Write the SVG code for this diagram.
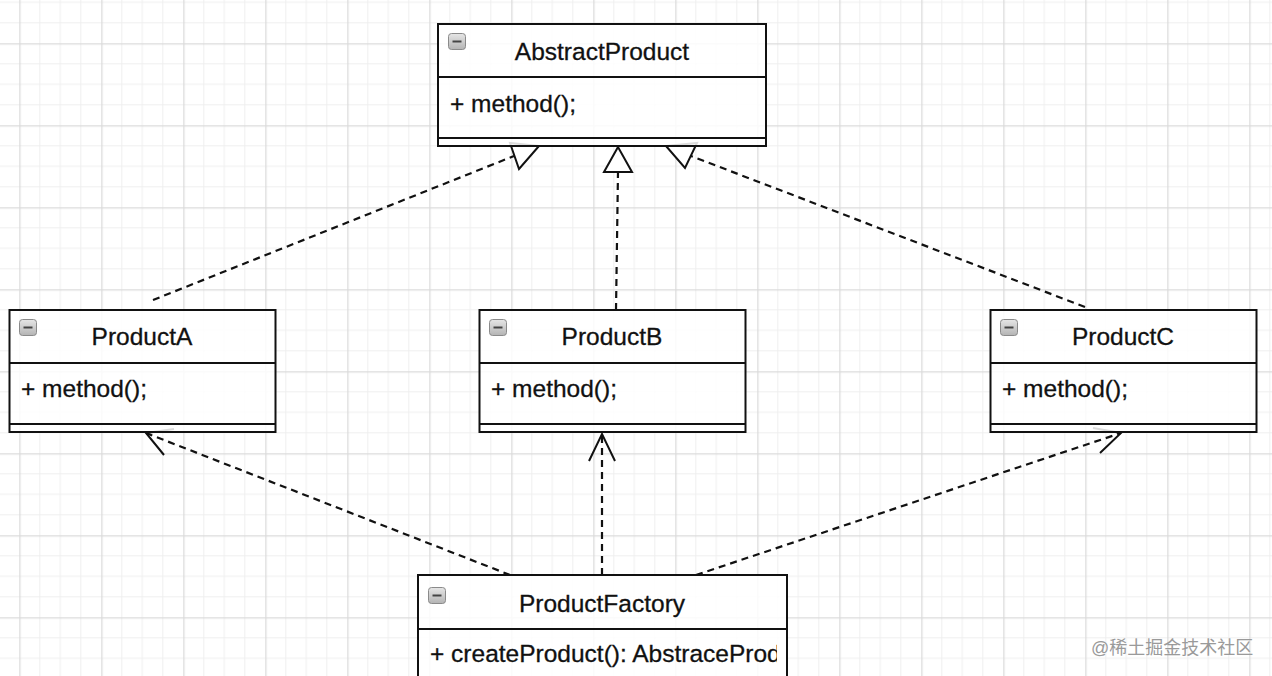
<svg xmlns="http://www.w3.org/2000/svg" width="1272" height="676" viewBox="0 0 1272 676">
<defs>
<pattern id="grid" patternUnits="userSpaceOnUse" x="19.3" y="43.3" width="82" height="82">
<path d="M20.5 0V82M41 0V82M61.5 0V82M0 20.5H82M0 41H82M0 61.5H82" stroke="#efefef" stroke-width="1" fill="none"/>
<path d="M0.5 0V82M0 0.5H82" stroke="#dadada" stroke-width="1.5" fill="none"/>
</pattern>
<linearGradient id="ig" x1="0" y1="0" x2="0" y2="1">
<stop offset="0" stop-color="#e6e6e6"/>
<stop offset="1" stop-color="#b4b4b4"/>
</linearGradient>
<g id="icon">
<rect x="0.5" y="0.5" width="17" height="16" rx="3" fill="url(#ig)" stroke="#8a8a8a" stroke-width="1"/>
<line x1="4.5" y1="8.5" x2="13.5" y2="8.5" stroke="#444" stroke-width="2"/>
</g>
<clipPath id="fclip"><rect x="418" y="575" width="359" height="101"/></clipPath>
</defs>
<style>
.box{fill:#fff;fill-opacity:0.85;stroke:#111;stroke-width:2}
.ln{stroke:#111;stroke-width:2;fill:none}
.title{font-family:"Liberation Sans",Arial,sans-serif;font-size:24.5px;fill:#111;stroke:#111;stroke-width:0.3;text-anchor:middle}
.meth{font-family:"Liberation Sans",Arial,sans-serif;font-size:24.5px;fill:#111;stroke:#111;stroke-width:0.3}
.dash{stroke:#111;stroke-width:2.2;fill:none;stroke-dasharray:7 5}
.head{stroke:#111;stroke-width:2;fill:#fff;stroke-linejoin:miter}
.open{stroke:#111;stroke-width:2;fill:none}
.wm{font-family:"Liberation Sans","Noto Sans CJK SC",sans-serif;font-size:18px;fill:#9a9a9a}
</style>
<rect width="1272" height="676" fill="#fff"/>
<rect width="1272" height="676" fill="url(#grid)"/>

<g id="connectors">
<line class="dash" x1="153" y1="300" x2="514" y2="156"/>
<polygon class="head" points="539,146 510,143 519,169"/>
<line class="dash" x1="616" y1="310" x2="618" y2="172"/>
<polygon class="head" points="618,147 604,172 632,172"/>
<line class="dash" x1="1085" y1="307" x2="691" y2="156"/>
<polygon class="head" points="666,146 697,143 685,168"/>
<line class="dash" x1="510" y1="575" x2="146" y2="433"/>
<polyline class="open" points="174,429 146,433 164,455"/>
<line class="dash" x1="602" y1="575" x2="602" y2="434"/>
<polyline class="open" points="589,461 602,434 615,461"/>
<line class="dash" x1="696" y1="575" x2="1121" y2="433"/>
<polyline class="open" points="1093,428 1121,433 1100,453"/>
</g>

<g id="AbstractProduct">
<rect class="box" x="438" y="24" width="328" height="122"/>
<line class="ln" x1="438" y1="77" x2="766" y2="77"/>
<line class="ln" x1="438" y1="138" x2="766" y2="138"/>
<use href="#icon" x="448" y="33"/>
<text class="title" x="602" y="60">AbstractProduct</text>
<text class="meth" x="450" y="112">+ method();</text>
</g>

<g id="ProductA">
<rect class="box" x="9.5" y="310" width="266" height="122"/>
<line class="ln" x1="9.5" y1="363" x2="275.5" y2="363"/>
<line class="ln" x1="9.5" y1="424" x2="275.5" y2="424"/>
<use href="#icon" x="19" y="319"/>
<text class="title" x="142" y="345">ProductA</text>
<text class="meth" x="21" y="397">+ method();</text>
</g>

<g id="ProductB">
<rect class="box" x="479.5" y="310" width="266" height="122"/>
<line class="ln" x1="479.5" y1="363" x2="745.5" y2="363"/>
<line class="ln" x1="479.5" y1="424" x2="745.5" y2="424"/>
<use href="#icon" x="489" y="319"/>
<text class="title" x="612" y="345">ProductB</text>
<text class="meth" x="491" y="397">+ method();</text>
</g>

<g id="ProductC">
<rect class="box" x="990.5" y="310" width="266" height="122"/>
<line class="ln" x1="990.5" y1="363" x2="1256.5" y2="363"/>
<line class="ln" x1="990.5" y1="424" x2="1256.5" y2="424"/>
<use href="#icon" x="1000" y="319"/>
<text class="title" x="1123" y="345">ProductC</text>
<text class="meth" x="1002" y="397">+ method();</text>
</g>

<g id="ProductFactory">
<rect class="box" x="418" y="575" width="369" height="110"/>
<line class="ln" x1="418" y1="629" x2="787" y2="629"/>
<use href="#icon" x="428" y="587"/>
<text class="title" x="602" y="612">ProductFactory</text>
<text class="meth" x="430" y="662" clip-path="url(#fclip)">+ createProduct(): AbstraceProduct</text>
</g>

<text class="wm" x="1091" y="654">@稀土掘金技术社区</text>
</svg>
